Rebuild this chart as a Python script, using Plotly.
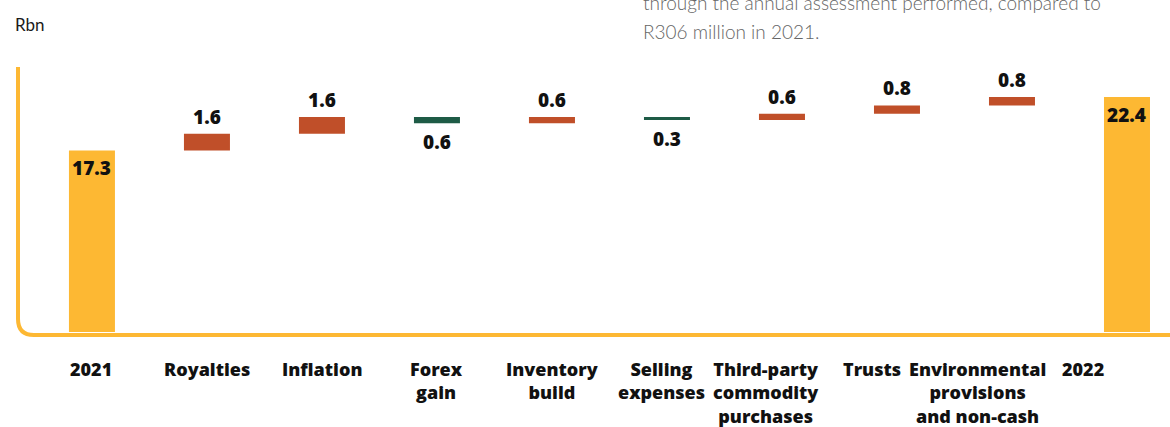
import plotly.graph_objects as go

# Cost bridge, Rbn
categories = ["2021", "Royalties", "Inflation", "Forex gain", "Inventory build",
              "Selling expenses", "Third-party commodity purchases", "Trusts",
              "Environmental provisions and non-cash", "2022"]
tick_labels = ["2021", "Royalties", "Inflation", "Forex<br>gain", "Inventory<br>build",
               "Selling<br>expenses", "Third-party<br>commodity<br>purchases", "Trusts",
               "Environmental<br>provisions<br>and non-cash", "2022"]
values = [17.3, 1.6, 1.6, -0.6, 0.6, -0.3, 0.6, 0.8, 0.8, 22.4]
measures = ["absolute", "relative", "relative", "relative", "relative",
            "relative", "relative", "relative", "relative", "total"]

YELLOW = "#FDB833"
RED = "#C04F29"
GREEN = "#1E5B46"
FONT = "Open Sans"

x_pos = list(range(len(categories)))

fig = go.Figure(go.Waterfall(
    x=x_pos,
    y=values,
    measure=measures,
    width=0.4,
    connector=dict(visible=False),
    increasing=dict(marker=dict(color=RED)),
    decreasing=dict(marker=dict(color=GREEN)),
    totals=dict(marker=dict(color=YELLOW)),
    hoverinfo="skip",
))

# value labels, placed from the running totals
annotations = []
running = 0.0
for i, (v, m) in enumerate(zip(values, measures)):
    if m == "absolute":
        running = v
        top, anchor, shift = v, "top", -3
    elif m == "total":
        top, anchor, shift = running, "top", -3
    else:
        running += v
        if v >= 0:
            top, anchor, shift = running, "bottom", 2
        else:
            top, anchor, shift = running, "top", -4
    annotations.append(dict(
        x=i, y=top, xref="x", yref="y", text=f"{abs(v if m != 'total' else running):.1f}",
        showarrow=False, yanchor=anchor, yshift=shift, xanchor="center",
        font=dict(family=FONT, size=19, color="#111111", weight=800),
    ))

# category labels under the axis
label_shift = [-1, 0, 0, 0, 0, -5, -16, -25, -34, -44]
for i, lab in enumerate(tick_labels):
    annotations.append(dict(
        x=i, y=0, xref="x", yref="paper", text=lab, showarrow=False,
        yanchor="top", yshift=-20, xanchor="center", xshift=label_shift[i],
        align="center",
        font=dict(family=FONT, size=18, color="#111111", weight=800),
    ))

# unit label
annotations.append(dict(
    x=0, y=1.157, xref="paper", yref="paper", text="Rbn", showarrow=False,
    xanchor="left", yanchor="middle", xshift=-5,
    font=dict(family="Lato", size=17, color="#1a1a1a", weight=400),
))

# body text running above the chart
annotations.append(dict(
    x=0.5408, y=1.2425, xref="paper", yref="paper",
    text="through the annual assessment performed, compared to",
    showarrow=False, xanchor="left", yanchor="middle",
    font=dict(family="Lato", size=19, color="#666666", weight=300),
))
annotations.append(dict(
    x=0.5408, y=1.134, xref="paper", yref="paper",
    text="R306 million in 2021.",
    showarrow=False, xanchor="left", yanchor="middle",
    font=dict(family="Lato", size=19, color="#666666", weight=300),
))

# rounded L-shaped frame
frame = dict(
    type="path", xref="paper", yref="paper",
    xsizemode="pixel", ysizemode="pixel", xanchor=0, yanchor=0,
    path="M 0,268 L 0,16 Q 0,0 16,0 L 1160,0",
    line=dict(color=YELLOW, width=4), layer="above",
)

fig.update_layout(
    width=1170, height=427,
    margin=dict(l=18, r=0, t=67, b=92),
    paper_bgcolor="white", plot_bgcolor="white",
    showlegend=False,
    xaxis=dict(range=[-0.643, 9.374], showticklabels=False, showgrid=False,
               zeroline=False, showline=False, fixedrange=True),
    yaxis=dict(range=[-0.29, 25.26], showticklabels=False, showgrid=False,
               zeroline=False, showline=False, fixedrange=True),
    annotations=annotations,
    shapes=[frame],
)

fig.write_html("out.html")
